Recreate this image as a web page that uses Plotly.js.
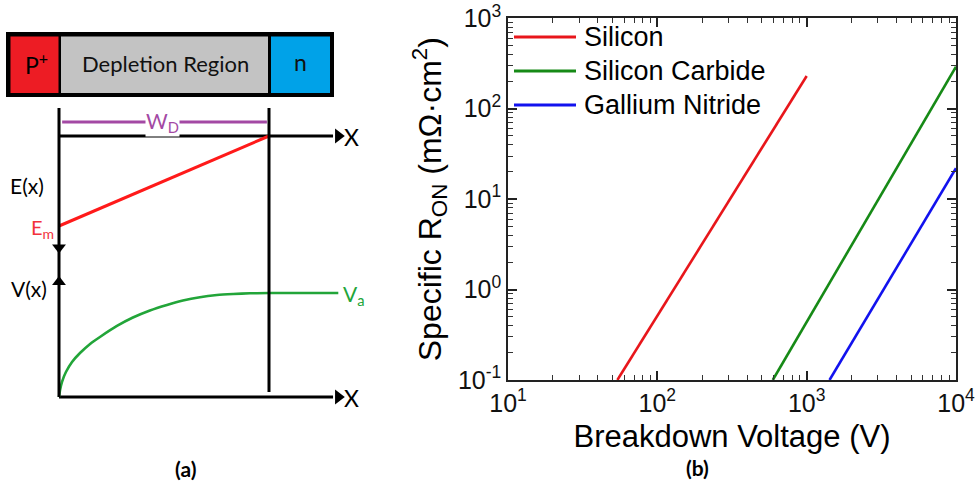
<!DOCTYPE html>
<html><head><meta charset="utf-8">
<script src="https://cdn.plot.ly/plotly-3.0.1.min.js"></script>
<style>
html,body{margin:0;padding:0;background:#fff;}
#wrap{position:relative;width:978px;height:491px;}
#plotB,#sketch{position:absolute;left:0;top:0;width:978px;height:491px;}
#sketch{pointer-events:none;}
</style>
</head><body><div id="wrap"><div id="plotB"></div><div id="sketch"></div></div>
<script>
// ---------- Panel (b): specific on-resistance vs breakdown voltage ----------
const materials = ['Silicon', 'Silicon Carbide', 'Gallium Nitride'];
const materialColors = ['#e8161b', '#168a16', '#1212ee'];
const siVoltage = [54, 1000];
const siRon = [0.1, 230];
const sicVoltage = [593, 10000];
const sicRon = [0.1, 292];
const ganVoltage = [1423, 10000];
const ganRon = [0.1, 22];
const xTickVals = [10, 100, 1000, 10000];
const xTickText = ['10<sup>1</sup>', '10<sup>2</sup>', '10<sup>3</sup>', '10<sup>4</sup>'];
const yTickVals = [0.1, 1, 10, 100, 1000];
const yTickText = ['10<sup>-1</sup>', '10<sup>0</sup>', '10<sup>1</sup>', '10<sup>2</sup>', '10<sup>3</sup>'];

// ---------- Panel (a): depletion-region sketch (normalised: x/W_D, E/E_m, V/V_a) ----------
const eX = [0, 1];
const eField = [-1, 0];
const vX = [0, 0.005, 0.014, 0.033, 0.062, 0.1, 0.148, 0.195, 0.276, 0.352, 0.433, 0.514, 0.59, 0.671, 0.752, 0.829, 0.91, 1.0];
const vPot = [0, 0.067, 0.144, 0.24, 0.337, 0.423, 0.51, 0.577, 0.683, 0.764, 0.832, 0.885, 0.928, 0.96, 0.98, 0.99, 0.997, 1.0];
const vaX = [1.0, 1.33];
const vaPot = [1.0, 1.0];
const axisX = [0, 1.305];
const axisY = [0, 0];
const wdX = [0.015, 0.99];
const wdY = [0.156, 0.156];

const W = 978, H = 491;
const px = x => x / W;
const py = y => 1 - y / H;
const FONT_A = 'Lato, "Open Sans", sans-serif';
const FONT_B = '"Liberation Sans", Arial, sans-serif';
const GREEN = '#22a539';
const PURPLE = '#a349a4';
const EM_RED = '#f2323c';
const NOGRID = 'rgba(0,0,0,0)';

// minor log tick positions (2..9 within each decade)
function minorTicks(lo, hi) {
  const out = [];
  for (let e = lo; e < hi; e++) for (let m = 2; m <= 9; m++) out.push(m * Math.pow(10, e));
  return out;
}

// ================= chart (b): log-log plot =================
const tracesB = [[siVoltage, siRon], [sicVoltage, sicRon], [ganVoltage, ganRon]].map((d, i) => ({
  x: d[0], y: d[1], type: 'scatter', mode: 'lines', name: materials[i],
  line: {color: materialColors[i], width: 2.6}
}));

const layoutB = {
  width: W, height: H, margin: {l: 0, r: 0, t: 0, b: 0}, showlegend: false,
  xaxis: {type: 'log', range: [1, 4], domain: [px(508), px(956)],
    tickvals: xTickVals, ticktext: xTickText,
    ticks: 'inside', ticklen: 9, tickwidth: 1.5, tickcolor: '#222',
    showline: true, mirror: 'ticks', linecolor: '#222', linewidth: 1.5,
    gridcolor: NOGRID,
    minor: {tickvals: minorTicks(1, 4), ticks: 'inside', ticklen: 5, tickwidth: 1.2, tickcolor: '#333', gridcolor: NOGRID},
    tickfont: {family: FONT_B, size: 25, color: '#111'},
    title: {text: 'Breakdown Voltage (V)', font: {family: FONT_B, size: 31, color: '#000'}, standoff: 10}},
  yaxis: {type: 'log', range: [-1, 3], domain: [py(380), py(18.3)],
    tickvals: yTickVals, ticktext: yTickText,
    ticks: 'inside', ticklen: 9, tickwidth: 1.5, tickcolor: '#222',
    showline: true, mirror: 'ticks', linecolor: '#222', linewidth: 1.5,
    gridcolor: NOGRID,
    minor: {tickvals: minorTicks(-1, 3), ticks: 'inside', ticklen: 5, tickwidth: 1.2, tickcolor: '#333', gridcolor: NOGRID},
    tickfont: {family: FONT_B, size: 25, color: '#111'},
    title: {text: 'Specific R<sub>ON</sub> (mΩ·cm<sup>2</sup>)', font: {family: FONT_B, size: 32, color: '#000'}, standoff: 7}}
};

Plotly.newPlot('plotB', tracesB, layoutB, {displayModeBar: false});

// ================= chart (a) sketch + legend/labels overlay =================
const blk = {color: '#000', width: 3};
const tracesA = [
  {x: axisX, y: axisY, xaxis: 'x', yaxis: 'y', mode: 'lines', line: blk},
  {x: [1.33], y: [0], xaxis: 'x', yaxis: 'y', mode: 'markers', marker: {symbol: 'triangle-right', size: 13, color: '#000'}},
  {x: [0], y: [-1.239], xaxis: 'x', yaxis: 'y', mode: 'markers', marker: {symbol: 'triangle-down', size: 12, color: '#000'}},
  {x: eX, y: eField, xaxis: 'x', yaxis: 'y', mode: 'lines', line: {color: '#ff1a1a', width: 3}},
  {x: wdX, y: wdY, xaxis: 'x', yaxis: 'y', mode: 'lines', line: {color: PURPLE, width: 3}},
  {x: axisX, y: axisY, xaxis: 'x', yaxis: 'y2', mode: 'lines', line: blk},
  {x: [1.33], y: [0], xaxis: 'x', yaxis: 'y2', mode: 'markers', marker: {symbol: 'triangle-right', size: 13, color: '#000'}},
  {x: [0], y: [1.106], xaxis: 'x', yaxis: 'y2', mode: 'markers', marker: {symbol: 'triangle-up', size: 12, color: '#000'}},
  {x: vX, y: vPot, xaxis: 'x', yaxis: 'y2', mode: 'lines', line: {color: GREEN, width: 2.6, shape: 'spline', smoothing: 0.6}},
  {x: vaX, y: vaPot, xaxis: 'x', yaxis: 'y2', mode: 'lines', line: {color: GREEN, width: 2.6}}
].map(t => Object.assign(t, {showlegend: false, hoverinfo: 'skip'}));

const shapes = [
  {type: 'rect', xref: 'paper', yref: 'paper', x0: px(6), x1: px(334), y0: py(97), y1: py(32), fillcolor: '#000', line: {width: 0}},
  {type: 'rect', xref: 'paper', yref: 'paper', x0: px(10.5), x1: px(58.5), y0: py(93), y1: py(36.5), fillcolor: '#ed1c24', line: {width: 0}},
  {type: 'rect', xref: 'paper', yref: 'paper', x0: px(61), x1: px(268), y0: py(93), y1: py(36.5), fillcolor: '#c3c3c3', line: {width: 0}},
  {type: 'rect', xref: 'paper', yref: 'paper', x0: px(271), x1: px(330), y0: py(93), y1: py(36.5), fillcolor: '#00a2e8', line: {width: 0}},
  {type: 'line', xref: 'x', yref: 'paper', x0: 0, x1: 0, y0: py(397), y1: py(108), line: blk},
  {type: 'line', xref: 'x', yref: 'paper', x0: 1, x1: 1, y0: py(392), y1: py(108), line: blk}
];

function note(x, y, text, font, extra) {
  return Object.assign({xref: 'paper', yref: 'paper', x: px(x), y: py(y), xanchor: 'center', yanchor: 'middle',
    text: text, showarrow: false, font: font}, extra || {});
}
const annotations = [
  note(36, 63, 'P<sup>+</sup>', {family: FONT_A, size: 23, color: '#000'}),
  note(165, 63, 'Depletion Region', {family: FONT_A, size: 22, color: '#111'}),
  note(300, 62, 'n', {family: FONT_A, size: 23, color: '#111'}),
  note(162, 122, 'W<sub>D</sub>', {family: FONT_A, size: 21, color: PURPLE}, {bgcolor: '#fff', borderpad: 0}),
  note(351, 137, 'X', {family: FONT_A, size: 23, color: '#000'}),
  note(351, 398, 'X', {family: FONT_A, size: 23, color: '#000'}),
  note(27, 185, 'E(x)', {family: FONT_A, size: 21, color: '#000'}),
  note(42, 228, 'E<sub>m</sub>', {family: FONT_A, size: 20, color: EM_RED}),
  note(29, 288, 'V(x)', {family: FONT_A, size: 21, color: '#000'}),
  note(354, 295, 'V<sub>a</sub>', {family: FONT_A, size: 21, color: GREEN}),
  note(185, 468, '<b>(a)</b>', {family: FONT_A, size: 21, color: '#000'}),
  note(697, 467, '<b>(b)</b>', {family: FONT_A, size: 21, color: '#000'})
];

// legend of panel (b)
materials.forEach((m, i) => {
  const yy = 37 + 34 * i;
  shapes.push({type: 'line', xref: 'paper', yref: 'paper', x0: px(514), x1: px(576), y0: py(yy), y1: py(yy), line: {color: materialColors[i], width: 3}});
  annotations.push(note(582, yy, m, {family: FONT_B, size: 27, color: '#000'}, {xanchor: 'left'}));
});

const layoutA = {
  width: W, height: H, margin: {l: 0, r: 0, t: 0, b: 0}, showlegend: false,
  paper_bgcolor: 'rgba(0,0,0,0)', plot_bgcolor: 'rgba(0,0,0,0)',
  xaxis: {domain: [0, px(390)], range: [(0 - 59) / 210, (390 - 59) / 210], visible: false, anchor: 'y', fixedrange: true},
  yaxis: {domain: [py(260), py(100)], range: [(136 - 260) / 90, (136 - 100) / 90], visible: false, anchor: 'x', fixedrange: true},
  yaxis2: {domain: [py(420), py(260)], range: [(397 - 420) / 104, (397 - 260) / 104], visible: false, anchor: 'x', fixedrange: true},
  shapes: shapes,
  annotations: annotations
};

Plotly.newPlot('sketch', tracesA, layoutA, {displayModeBar: false});
</script>
</body></html>
